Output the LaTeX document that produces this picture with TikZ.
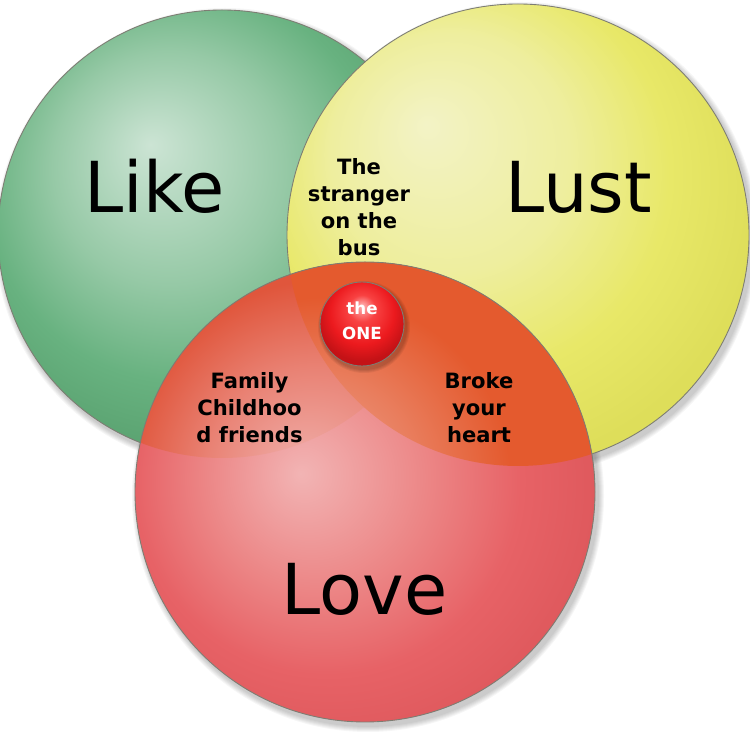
\documentclass[tikz,border=0pt]{standalone}
\usepackage{fontspec}
\setmainfont{DejaVu Sans}
\usepackage{tikz}
\definecolor{likehi}{RGB}{204,228,212}
\definecolor{likemid}{RGB}{150,201,166}
\definecolor{likebase}{RGB}{104,178,128}
\definecolor{likerim}{RGB}{88,160,110}
\definecolor{lusthi}{RGB}{243,243,198}
\definecolor{lustmid}{RGB}{238,238,158}
\definecolor{lustbase}{RGB}{232,232,104}
\definecolor{lustrim}{RGB}{222,222,90}
\definecolor{lovehi}{RGB}{242,180,180}
\definecolor{lovemid}{RGB}{236,134,134}
\definecolor{lovebase}{RGB}{231,98,102}
\definecolor{loverim}{RGB}{222,88,92}
\definecolor{likelovehi}{RGB}{240,176,172}
\definecolor{likelovemid}{RGB}{233,130,116}
\definecolor{likelovebase}{RGB}{224,86,60}
\definecolor{lustlovehi}{RGB}{238,166,146}
\definecolor{lustlovemid}{RGB}{233,126,94}
\definecolor{lustlovebase}{RGB}{228,90,46}
\definecolor{onehi}{RGB}{255,180,180}
\definecolor{onemid}{RGB}{248,66,66}
\definecolor{onebase}{RGB}{236,26,30}
\definecolor{onerim}{RGB}{196,18,22}
\definecolor{rim}{RGB}{125,125,115}
% radial shadings: 25bp is the rim of the circle
\pgfdeclareradialshading{likeshade}{\pgfpoint{-8bp}{10bp}}{color(0bp)=(likehi); color(13bp)=(likemid); color(22bp)=(likebase); color(30bp)=(likerim); color(50bp)=(likerim)}
\pgfdeclareradialshading{lustshade}{\pgfpoint{-10bp}{12bp}}{color(0bp)=(lusthi); color(13bp)=(lustmid); color(22bp)=(lustbase); color(30bp)=(lustrim); color(50bp)=(lustrim)}
\pgfdeclareradialshading{loveshade}{\pgfpoint{-7bp}{2bp}}{color(0bp)=(lovehi); color(12bp)=(lovemid); color(21bp)=(lovebase); color(29bp)=(loverim); color(50bp)=(loverim)}
\pgfdeclareradialshading{likeloveshade}{\pgfpoint{-7bp}{2bp}}{color(0bp)=(likelovehi); color(12bp)=(likelovemid); color(22bp)=(likelovebase); color(50bp)=(likelovebase)}
\pgfdeclareradialshading{lustloveshade}{\pgfpoint{-7bp}{2bp}}{color(0bp)=(lustlovehi); color(11bp)=(lustlovemid); color(20bp)=(lustlovebase); color(50bp)=(lustlovebase)}
\pgfdeclareradialshading{oneshade}{\pgfpoint{0bp}{11bp}}{color(0bp)=(onehi); color(8bp)=(onemid); color(19bp)=(onebase); color(27bp)=(onerim); color(50bp)=(onerim)}
\tikzset{
	shadow/.style={black,opacity=0.035},
	outline/.style={draw=rim,line width=0.5pt},
	big/.style={font=\fontsize{40}{48}\selectfont,anchor=base,inner sep=0pt},
	small/.style={font=\bfseries\fontsize{12}{15.3}\selectfont,align=center,inner sep=0pt},
	onetext/.style={font=\bfseries\fontsize{9.5}{14}\selectfont,text=white,align=center,inner sep=0pt}
}
\begin{document}
\begin{tikzpicture}[x=0.02cm,y=0.02cm]
	\fill[white] (0,0) rectangle (750,750);
	\useasboundingbox (0,0) rectangle (750,750);
	\coordinate (like) at (222,516);
	\coordinate (lust) at (518,515);
	\coordinate (love) at (365,258);
	\coordinate (one) at (362,426);

	% soft shadows
	\foreach \s in {1,...,6} {
		\fill[shadow] ([shift={(3,-4)}]like) circle (224+\s);
		\fill[shadow] ([shift={(3,-4)}]lust) circle (231+\s);
		\fill[shadow] ([shift={(3,-4)}]love) circle (230+\s);
	}

	% the three sets
	\shade[shading=likeshade] (like) circle (224);
	\draw[outline] (like) circle (224);
	\shade[shading=lustshade] (lust) circle (231);
	\draw[outline] (lust) circle (231);
	\shade[shading=loveshade] (love) circle (230);

	% overlaps with love
	\begin{scope}
		\clip (like) circle (224);
		\shade[shading=likeloveshade] (love) circle (230);
	\end{scope}
	\begin{scope}
		\clip (lust) circle (231);
		\shade[shading=lustloveshade] (love) circle (230);
	\end{scope}
	\draw[outline] (love) circle (230);

	% the one
	\foreach \s in {1,...,4}
		\fill[black,opacity=0.06] ([shift={(2,-3)}]one) circle (42+\s);
	\shade[shading=oneshade] (one) circle (42);
	\draw[outline] (one) circle (42);

	\node[big] (liketext) at (154.5,537) {Like};
	\node[big] (lusttext) at (578.5,537) {Lust};
	\node[big] (lovetext) at (364.5,135) {Love};
	\node[small] (stranger) at (359,543) {The\\stranger\\on the\\bus};
	\node[small] (family) at (249.5,342) {Family\\Childhoo\\d friends};
	\node[small] (broke) at (479,342) {Broke\\your\\heart};
	\node[onetext] (onetext) at (362,429) {the\\ONE};
\end{tikzpicture}
\end{document}
